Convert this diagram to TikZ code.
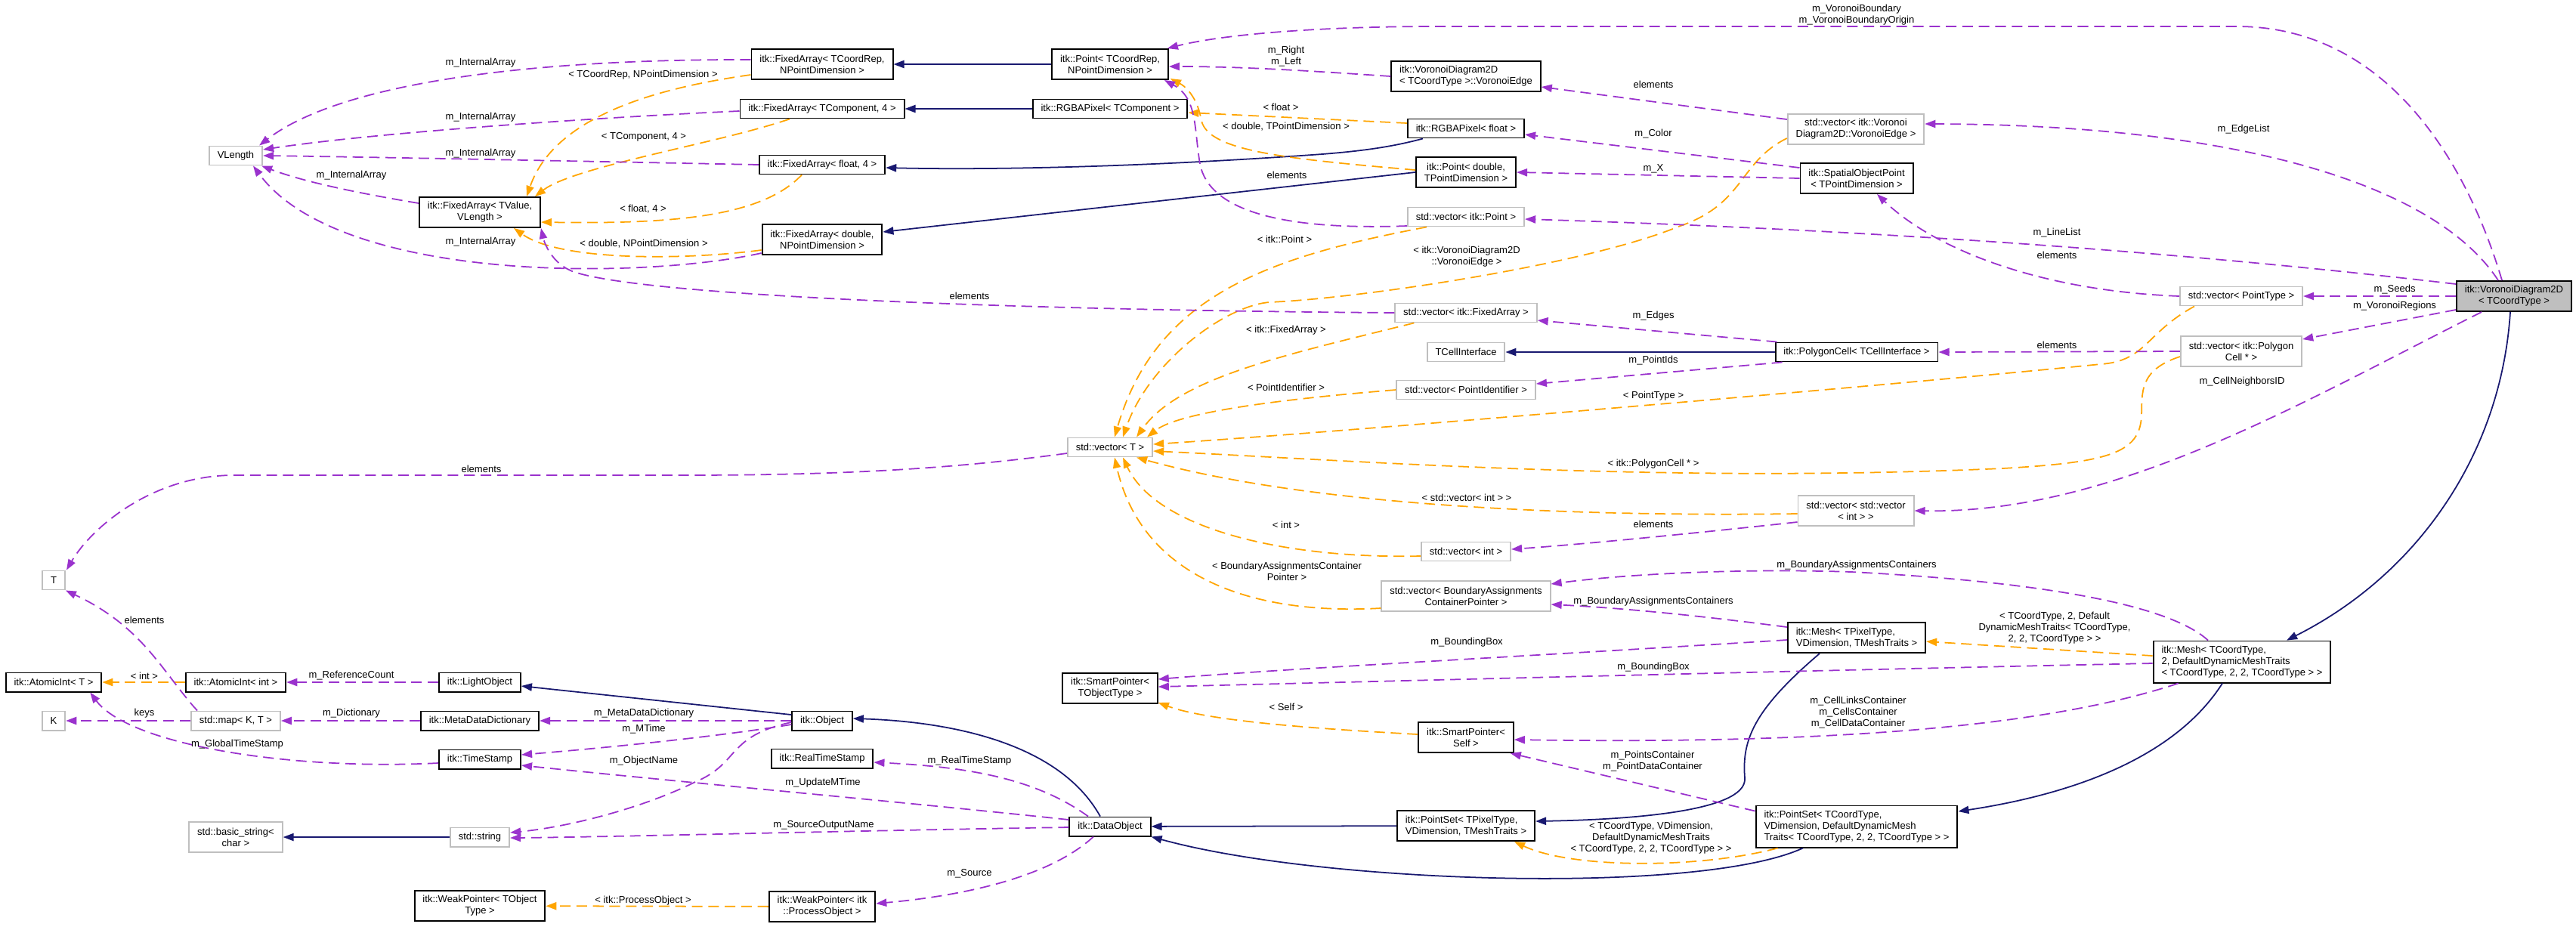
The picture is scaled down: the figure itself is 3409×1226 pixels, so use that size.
\documentclass[tikz,border=0pt]{standalone}
\usepackage{fontspec}
\setmainfont{Liberation Sans}
\usepackage{xcolor}
\usetikzlibrary{arrows.meta,calc}
\definecolor{inhcol}{HTML}{191970}
\definecolor{usecol}{HTML}{9A32CD}
\definecolor{tplcol}{HTML}{FFA500}
\definecolor{extcol}{HTML}{BFBFBF}
\newcommand{\dgfont}{\fontsize{3.7pt}{4.27pt}\selectfont}

\begin{document}
\begin{tikzpicture}[x=0.01cm, y=-0.01cm, font=\dgfont,
  cls/.style={draw=black, line width=0.55pt, fill=white, inner xsep=3.1pt, inner ysep=0.5pt,
    minimum height=0.25cm, align=center},
  two/.style={minimum height=0.40cm},
  three/.style={minimum height=0.55cm},
  ext/.style={cls, draw=extcol},
  lbl/.style={inner sep=0pt, align=center},
  inh/.style={draw=inhcol, line width=0.5pt, -{Triangle[length=4pt,width=2.9pt]}},
  use/.style={draw=usecol, line width=0.5pt, dash pattern=on 4pt off 2.2pt, -{Triangle[length=4pt,width=2.9pt]}},
  tpl/.style={use, draw=tplcol}]
  \fill[white] (0,0) rectangle (3409,1226);
  \useasboundingbox (0,0) rectangle (3409,1226);

  % classes, column by column
  \node[ext] (T) at (71,768) {T};
  \node[cls] (AtomicT) at (71,903) {itk::AtomicInt< T >};
  \node[ext] (K) at (71,954) {K};
  \node[ext] (VLength) at (312,206) {VLength};
  \node[cls] (AtomicInt) at (312,903) {itk::AtomicInt< int >};
  \node[ext] (StdMap) at (312,954) {std::map< K, T >};
  \node[ext, two] (BasicStr) at (312,1108) {std::basic\_string<\\char >};
  \node[cls, two] (FATValue) at (635,281) {itk::FixedArray< TValue,\\VLength >};
  \node[cls] (LightObj) at (635,903) {itk::LightObject};
  \node[cls] (MetaDict) at (635,954) {itk::MetaDataDictionary};
  \node[cls] (TimeStamp) at (635,1005) {itk::TimeStamp};
  \node[ext] (StdStr) at (635,1108) {std::string};
  \node[cls, two] (WeakPtrT) at (635,1199) {itk::WeakPointer< TObject\\Type >};
  \node[cls, two] (FACoordRep) at (1088,85) {itk::FixedArray< TCoordRep,\\NPointDimension >};
  \node[cls] (FAComp) at (1088,144) {itk::FixedArray< TComponent, 4 >};
  \node[cls] (FAFloat) at (1088,218) {itk::FixedArray< float, 4 >};
  \node[cls, two] (FADouble) at (1088,317) {itk::FixedArray< double,\\NPointDimension >};
  \node[cls] (Object) at (1088,954) {itk::Object};
  \node[cls] (RealTS) at (1088,1004) {itk::RealTimeStamp};
  \node[cls, two] (WeakPtrPO) at (1088,1200) {itk::WeakPointer< itk\\::ProcessObject >};
  \node[cls, two] (PointCoordRep) at (1469,85) {itk::Point< TCoordRep,\\NPointDimension >};
  \node[cls] (RGBAComp) at (1469,144) {itk::RGBAPixel< TComponent >};
  \node[ext] (VecT) at (1469,592) {std::vector< T >};
  \node[cls, two] (SmartPtrT) at (1469,911) {itk::SmartPointer<\\TObjectType >};
  \node[cls] (DataObj) at (1469,1094) {itk::DataObject};
  \node[cls, two, align=left] (VorEdge) at (1940,101) {itk::VoronoiDiagram2D\\< TCoordType >::VoronoiEdge};
  \node[cls] (RGBAFloat) at (1940,170) {itk::RGBAPixel< float >};
  \node[cls, two] (PointDouble) at (1940,228) {itk::Point< double,\\TPointDimension >};
  \node[ext] (VecPoint) at (1940,287) {std::vector< itk::Point >};
  \node[ext] (VecFA) at (1940,414) {std::vector< itk::FixedArray >};
  \node[ext] (TCellIf) at (1940,466) {TCellInterface};
  \node[ext] (VecPtId) at (1940,516) {std::vector< PointIdentifier >};
  \node[ext] (VecInt) at (1940,730) {std::vector< int >};
  \node[ext, two] (VecBA) at (1940,789) {std::vector< BoundaryAssignments\\ContainerPointer >};
  \node[cls, two] (SmartPtrSelf) at (1940,976) {itk::SmartPointer<\\Self >};
  \node[cls, two, align=left] (PointSetPix) at (1940,1093) {itk::PointSet< TPixelType,\\VDimension, TMeshTraits >};
  \node[ext, two] (VecVorEdge) at (2456,171) {std::vector< itk::Voronoi\\Diagram2D::VoronoiEdge >};
  \node[cls, two] (SOPoint) at (2457,236) {itk::SpatialObjectPoint\\< TPointDimension >};
  \node[cls] (PolyCell) at (2457,466) {itk::PolygonCell< TCellInterface >};
  \node[ext, two] (VecVecInt) at (2456,676) {std::vector< std::vector\\< int > >};
  \node[cls, two, align=left] (MeshPix) at (2457,844) {itk::Mesh< TPixelType,\\VDimension, TMeshTraits >};
  \node[cls, three, align=left] (PointSetCoord) at (2457,1094) {itk::PointSet< TCoordType,\\VDimension, DefaultDynamicMesh\\Traits< TCoordType, 2, 2, TCoordType > >};
  \node[ext] (VecPointType) at (2966,392) {std::vector< PointType >};
  \node[ext, two] (VecPolyCell) at (2966,465) {std::vector< itk::Polygon\\Cell * >};
  \node[cls, three, align=left] (MeshCoord) at (2967,876) {itk::Mesh< TCoordType,\\2, DefaultDynamicMeshTraits\\< TCoordType, 2, 2, TCoordType > >};
  \node[cls, two, fill=extcol] (Voronoi) at (3327,392) {itk::VoronoiDiagram2D\\< TCoordType >};

  % inheritance
  \draw[inh] (PointCoordRep) -- (FACoordRep);
  \draw[inh] (RGBAComp) -- (FAComp);
  \draw[inh] ($(RGBAFloat.south west)+(21,0)$) .. controls (1840,195) and (1800,200) .. (1750,204) .. controls (1500,222) and (1300,225) .. ($(FAFloat.east)+(0,4)$);
  \draw[inh] (PointDouble.west) -- ($(FADouble.east)+(0,-10)$);
  \draw[inh] (PolyCell) -- (TCellIf);
  \draw[inh] ($(Voronoi.south)+(-5,0)$) .. controls (3310,600) and (3200,760) .. ($(MeshCoord.north)+(59,0)$);
  \draw[inh] ($(MeshCoord.south)+(-26,0)$) .. controls (2880,1000) and (2750,1050) .. ($(PointSetCoord.east)+(0,-20)$);
  \draw[inh] ($(MeshPix.south)+(-49,0)$) .. controls (2320,940) and (2305,980) .. (2309,1030) .. controls (2312,1075) and (2150,1085) .. ($(PointSetPix.east)+(0,-6)$);
  \draw[inh] (PointSetPix) -- (DataObj);
  \draw[inh] ($(PointSetCoord.south)+(-71,0)$) .. controls (2250,1185) and (1750,1170) .. (DataObj.south east);
  \draw[inh] ($(DataObj.north)+(-13,0)$) .. controls (1400,980) and (1250,955) .. ($(Object.east)+(0,-3)$);
  \draw[inh] ($(Object.west)+(0,-8)$) -- ($(LightObj.east)+(0,5)$);
  \draw[inh] (StdStr) -- (BasicStr);

  % template instances
  \draw[tpl] ($(FACoordRep.south west)+(0,-7)$) .. controls (880,115) and (735,150) .. ($(FATValue.north)+(62,0)$);
  \draw[tpl] ($(FAComp.south)+(-43,0)$) .. controls (950,190) and (760,220) .. ($(FATValue.north)+(73,0)$);
  \draw[tpl] ($(FAFloat.south)+(-27,0)$) .. controls (1010,285) and (900,297) .. ($(FATValue.east)+(0,13)$);
  \draw[tpl] ($(FADouble.west)+(0,14)$) .. controls (900,345) and (740,345) .. ($(FATValue.south)+(45,0)$);
  \draw[tpl] ($(RGBAFloat.west)+(0,-7)$) -- ($(RGBAComp.east)+(0,5)$);
  \draw[tpl] ($(PointDouble.west)+(0,-3)$) .. controls (1700,210) and (1600,200) .. (1590,160) .. controls (1585,130) and (1570,115) .. ($(PointCoordRep.south east)+(2,-2)$);
  \draw[tpl] ($(VecPoint.south west)+(26,0)$) .. controls (1680,340) and (1530,390) .. ($(VecT.north)+(6,0)$);
  \draw[tpl] ($(VecVorEdge.south west)+(0,-9)$) .. controls (2300,215) and (2310,270) .. (2221,300) .. controls (2100,350) and (1800,395) .. (1680,400) .. controls (1620,405) and (1520,480) .. ($(VecT.north)+(17,0)$);
  \draw[tpl] ($(VecFA.south west)+(26,0)$) .. controls (1700,470) and (1560,500) .. ($(VecT.north east)+(-22,0)$);
  \draw[tpl] (VecPtId.west) .. controls (1700,528) and (1560,545) .. ($(VecT.north east)+(-8,0)$);
  \draw[tpl] ($(VecPointType.south west)+(20,0)$) .. controls (2840,440) and (2840,478) .. (2780,482) .. controls (2500,510) and (1800,570) .. ($(VecT.east)+(0,-4)$);
  \draw[tpl] ($(VecPolyCell.west)+(0,7)$) .. controls (2830,490) and (2835,520) .. (2834,550) .. controls (2832,600) and (2790,612) .. (2650,620) .. controls (2200,640) and (1800,610) .. ($(VecT.east)+(0,5)$);
  \draw[tpl] ($(VecVecInt.west)+(0,4)$) .. controls (2000,685) and (1700,660) .. ($(VecT.south east)+(-22,0)$);
  \draw[tpl] ($(VecInt.west)+(0,6)$) .. controls (1700,740) and (1530,700) .. ($(VecT.south)+(17,0)$);
  \draw[tpl] ($(VecBA.west)+(0,16)$) .. controls (1650,815) and (1510,760) .. ($(VecT.south)+(6,0)$);
  \draw[tpl] ($(SmartPtrSelf.west)+(0,-4)$) .. controls (1750,965) and (1600,955) .. ($(SmartPtrT.south east)+(0,-2)$);
  \draw[tpl] (AtomicInt) -- (AtomicT);
  \draw[tpl] (WeakPtrPO) -- (WeakPtrT);
  \draw[tpl] ($(PointSetCoord.south west)+(30,0)$) .. controls (2250,1150) and (2080,1150) .. ($(PointSetPix.south)+(64,0)$);
  \draw[tpl] ($(MeshCoord.west)+(0,-8)$) -- ($(MeshPix.east)+(0,5)$);

  % members
  \draw[use] ($(FACoordRep.west)+(0,-6)$) .. controls (700,78) and (450,110) .. ($(VLength.north east)+(-5,0)$);
  \draw[use] ($(FAComp.west)+(0,3)$) .. controls (800,155) and (500,175) .. ($(VLength.east)+(0,-8)$);
  \draw[use] (FAFloat.west) .. controls (800,214) and (500,208) .. (VLength.east);
  \draw[use] ($(FATValue.west)+(0,-12)$) .. controls (470,255) and (400,240) .. ($(VLength.south east)+(-2,0)$);
  \draw[use] ($(FADouble.south west)+(0,-3)$) .. controls (850,370) and (450,375) .. ($(VLength.south)+(23,0)$);
  \draw[use] (VecFA.west) .. controls (1300,410) and (850,390) .. (760,360) .. controls (730,350) and (720,320) .. (FATValue.south east);
  \draw[use] (VorEdge.west) .. controls (1750,95) and (1650,88) .. ($(PointCoordRep.east)+(0,3)$);
  \draw[use] ($(Voronoi.north)+(-16,0)$) .. controls (3260,200) and (3150,35) .. (2960,35) -- (1900,35) .. controls (1750,35) and (1620,45) .. ($(PointCoordRep.north east)+(-2,0)$);
  \draw[use] ($(VecPoint.west)+(0,12)$) .. controls (1700,305) and (1600,280) .. (1588,217) .. controls (1580,170) and (1585,130) .. ($(PointCoordRep.south east)+(-6,0)$);
  \draw[use] ($(VecVorEdge.west)+(0,-13)$) -- ($(VorEdge.east)+(0,14)$);
  \draw[use] ($(SOPoint.west)+(0,-14)$) -- ($(RGBAFloat.east)+(0,8)$);
  \draw[use] (SOPoint.west) -- (PointDouble.east);
  \draw[use] (VecPointType.west) .. controls (2700,385) and (2560,330) .. ($(SOPoint.south)+(27,0)$);
  \draw[use] ($(Voronoi.west)+(0,-16)$) .. controls (2900,335) and (2500,305) .. ($(VecPoint.east)+(0,3)$);
  \draw[use] ($(Voronoi.north)+(-21,0)$) .. controls (3220,240) and (2950,165) .. ($(VecVorEdge.east)+(0,-7)$);
  \draw[use] ($(PolyCell.north west)+(3,0)$) -- ($(VecFA.east)+(0,10)$);
  \draw[use] ($(PolyCell.south west)+(10,0)$) -- ($(VecPtId.east)+(0,-8)$);
  \draw[use] (VecPolyCell.west) -- (PolyCell.east);
  \draw[use] (Voronoi) -- (VecPointType);
  \draw[use] ($(Voronoi.south west)+(0,-3)$) -- ($(VecPolyCell.north east)+(0,5)$);
  \draw[use] ($(Voronoi.south)+(-43,0)$) .. controls (3050,530) and (2800,680) .. (VecVecInt.east);
  \draw[use] ($(VecVecInt.west)+(0,15)$) .. controls (2250,705) and (2100,720) .. ($(VecInt.east)+(0,-3)$);
  \draw[use] ($(VecT.west)+(0,8)$) .. controls (1250,622) and (1100,629) .. (900,629) -- (310,629) .. controls (200,629) and (120,700) .. ($(T.north)+(17,0)$);
  \draw[use] ($(StdMap.north west)+(9,0)$) .. controls (215,890) and (190,830) .. (T.south east);
  \draw[use] ($(MeshPix.north west)+(0,7)$) .. controls (2250,815) and (2150,805) .. ($(VecBA.east)+(0,11)$);
  \draw[use] ($(MeshCoord.north)+(-45,0)$) .. controls (2870,800) and (2700,770) .. (2450,757) .. controls (2300,752) and (2150,760) .. ($(VecBA.east)+(0,-16)$);
  \draw[use] ($(MeshPix.west)+(0,3)$) .. controls (2000,870) and (1700,885) .. ($(SmartPtrT.east)+(0,-12)$);
  \draw[use] ($(MeshCoord.west)+(0,2)$) .. controls (2500,885) and (1900,900) .. ($(SmartPtrT.east)+(0,-2)$);
  \draw[use] ($(MeshCoord.south west)+(34,0)$) .. controls (2700,965) and (2400,985) .. ($(SmartPtrSelf.east)+(0,3)$);
  \draw[use] ($(PointSetCoord.north west)+(0,8)$) -- ($(SmartPtrSelf.south east)+(-5,0)$);
  \draw[use] (LightObj) -- (AtomicInt);
  \draw[use] ($(TimeStamp.west)+(0,5)$) .. controls (380,1020) and (170,985) .. ($(AtomicT.south east)+(-16,0)$);
  \draw[use] (StdMap) -- (K);
  \draw[use] (MetaDict) -- (StdMap);
  \draw[use] (Object) -- (MetaDict);
  \draw[use] ($(Object.west)+(0,5)$) .. controls (950,975) and (800,990) .. ($(TimeStamp.east)+(0,-6)$);
  \draw[use] ($(DataObj.west)+(0,-9)$) .. controls (1200,1062) and (900,1035) .. ($(TimeStamp.east)+(0,8)$);
  \draw[use] ($(Object.west)+(0,2)$) .. controls (960,975) and (980,1010) .. (920,1035) .. controls (850,1070) and (750,1095) .. ($(StdStr.east)+(0,-6)$);
  \draw[use] ($(DataObj.west)+(0,1)$) .. controls (1100,1100) and (800,1108) .. ($(StdStr.east)+(0,1)$);
  \draw[use] ($(DataObj.north)+(-29,0)$) .. controls (1370,1030) and (1280,1015) .. ($(RealTS.east)+(0,5)$);
  \draw[use] ($(DataObj.south)+(-22,0)$) .. controls (1390,1160) and (1280,1185) .. ($(WeakPtrPO.east)+(0,-4)$);

  % edge labels
  \node[lbl] (lIA1) at (636,83) {m\_InternalArray};
  \node[lbl] (lIA2) at (636,155) {m\_InternalArray};
  \node[lbl] (lIA3) at (636,203) {m\_InternalArray};
  \node[lbl] (lIA4) at (465,232) {m\_InternalArray};
  \node[lbl] (lIA5) at (636,320) {m\_InternalArray};
  \node[lbl] (lCoordRep) at (851,99) {< TCoordRep, NPointDimension >};
  \node[lbl] (lComp) at (852,181) {< TComponent, 4 >};
  \node[lbl] (lFloat4) at (851,277) {< float, 4 >};
  \node[lbl] (lDblNP) at (852,323) {< double, NPointDimension >};
  \node[lbl] (lElFA) at (1283,392) {elements};
  \node[lbl] (lRL) at (1702,75) {m\_Right\\m\_Left};
  \node[lbl] (lVB) at (2457,20) {m\_VoronoiBoundary\\m\_VoronoiBoundaryOrigin};
  \node[lbl] (lFloat) at (1695,142) {< float >};
  \node[lbl] (lDblTP) at (1702,168) {< double, TPointDimension >};
  \node[lbl] (lElPt) at (1703,232) {elements};
  \node[lbl] (lItkPt) at (1700,317) {< itk::Point >};
  \node[lbl] (lElVor) at (2188,112) {elements};
  \node[lbl] (lColor) at (2188,177) {m\_Color};
  \node[lbl] (lX) at (2188,223) {m\_X};
  \node[lbl] (lVorTpl) at (1941,340) {< itk::VoronoiDiagram2D\\::VoronoiEdge >};
  \node[lbl] (lEdgeList) at (2969,171) {m\_EdgeList};
  \node[lbl] (lLineList) at (2722,308) {m\_LineList};
  \node[lbl] (lElSOP) at (2722,338) {elements};
  \node[lbl] (lSeeds) at (3169,383) {m\_Seeds};
  \node[lbl] (lRegions) at (3169,405) {m\_VoronoiRegions};
  \node[lbl] (lFATpl) at (1702,437) {< itk::FixedArray >};
  \node[lbl] (lPtIdTpl) at (1702,513) {< PointIdentifier >};
  \node[lbl] (lEdges) at (2188,418) {m\_Edges};
  \node[lbl] (lPtIds) at (2188,477) {m\_PointIds};
  \node[lbl] (lPTTpl) at (2188,524) {< PointType >};
  \node[lbl] (lElPoly) at (2722,457) {elements};
  \node[lbl] (lNbr) at (2967,505) {m\_CellNeighborsID};
  \node[lbl] (lPolyTpl) at (2188,614) {< itk::PolygonCell * >};
  \node[lbl] (lVIntTpl) at (1941,659) {< std::vector< int > >};
  \node[lbl] (lIntTpl) at (1702,695) {< int >};
  \node[lbl] (lElInt) at (2188,694) {elements};
  \node[lbl] (lBATpl) at (1703,756) {< BoundaryAssignmentsContainer\\Pointer >};
  \node[lbl] (lBA1) at (2457,748) {m\_BoundaryAssignmentsContainers};
  \node[lbl] (lBA2) at (2188,796) {m\_BoundaryAssignmentsContainers};
  \node[lbl] (lElT) at (637,621) {elements};
  \node[lbl] (lElMap) at (191,821) {elements};
  \node[lbl] (lMeshTpl) at (2719,831) {< TCoordType, 2, Default\\DynamicMeshTraits< TCoordType,\\2, 2, TCoordType > >};
  \node[lbl] (lBB1) at (1941,850) {m\_BoundingBox};
  \node[lbl] (lBB2) at (2188,883) {m\_BoundingBox};
  \node[lbl] (lCells) at (2459,943) {m\_CellLinksContainer\\m\_CellsContainer\\m\_CellDataContainer};
  \node[lbl] (lSelf) at (1702,936) {< Self >};
  \node[lbl] (lPts) at (2187,1008) {m\_PointsContainer\\m\_PointDataContainer};
  \node[lbl] (lPSTpl) at (2185,1109) {< TCoordType, VDimension,\\DefaultDynamicMeshTraits\\< TCoordType, 2, 2, TCoordType > >};
  \node[lbl] (lIntA) at (191,895) {< int >};
  \node[lbl] (lRefCnt) at (465,894) {m\_ReferenceCount};
  \node[lbl] (lKeys) at (191,944) {keys};
  \node[lbl] (lDict) at (465,944) {m\_Dictionary};
  \node[lbl] (lGTS) at (314,985) {m\_GlobalTimeStamp};
  \node[lbl] (lMDD) at (852,944) {m\_MetaDataDictionary};
  \node[lbl] (lMTime) at (852,965) {m\_MTime};
  \node[lbl] (lObjName) at (852,1007) {m\_ObjectName};
  \node[lbl] (lRTS) at (1283,1007) {m\_RealTimeStamp};
  \node[lbl] (lUpd) at (1089,1036) {m\_UpdateMTime};
  \node[lbl] (lSON) at (1090,1092) {m\_SourceOutputName};
  \node[lbl] (lSrc) at (1283,1156) {m\_Source};
  \node[lbl] (lPO) at (851,1192) {< itk::ProcessObject >};
\end{tikzpicture}
\end{document}
